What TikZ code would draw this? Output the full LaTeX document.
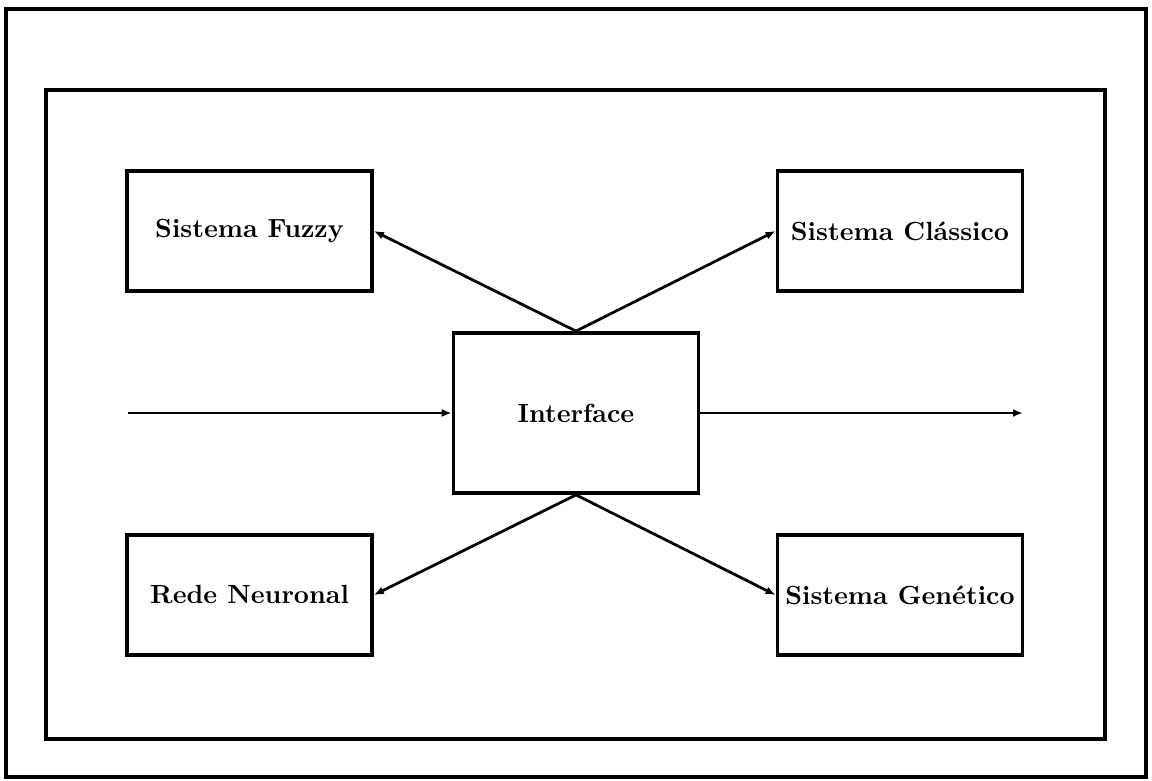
\documentclass[tikz,border=0pt]{standalone}
\usetikzlibrary{arrows.meta}
\begin{document}
\begin{tikzpicture}[x=0.4pt,y=-0.4pt,
  frame/.style={draw=black,line width=1.3pt},
  block/.style={draw=black,line width=1.5pt,rectangle,inner sep=0pt,
    minimum width=98pt,minimum height=48pt,
    font=\fontsize{10.5}{12}\selectfont\bfseries},
  link/.style={draw=black,line width=1.1pt,
    -{Latex[length=4pt,width=3.2pt]}}]
  \useasboundingbox (0,0) rectangle (1152,780);
  % outer and inner frames
  \draw[frame] (6,9) rectangle (1146,777);
  \draw[frame] (46,90) rectangle (1105,739);
  % blocks
  \node[block] (fz) at (249.5,231) {Sistema Fuzzy};
  \node[block] (cl) at (900,231) {Sistema Clássico};
  \node[block,minimum height=64pt] (if) at (576,413) {Interface};
  \node[block] (rn) at (249.5,595) {Rede Neuronal};
  \node[block] (gn) at (900,595) {Sistema Genético};
  % input and output ends
  \coordinate (in) at (128,413);
  \coordinate (out) at (1023,413);
  % connectors
  \draw[link] (if.north) -- (fz.east);
  \draw[link] (if.north) -- (cl.west);
  \draw[link] (if.south) -- (rn.east);
  \draw[link] (if.south) -- (gn.west);
  \draw[link] (in) -- (if.west);
  \draw[link] (if.east) -- (out);
\end{tikzpicture}
\end{document}
